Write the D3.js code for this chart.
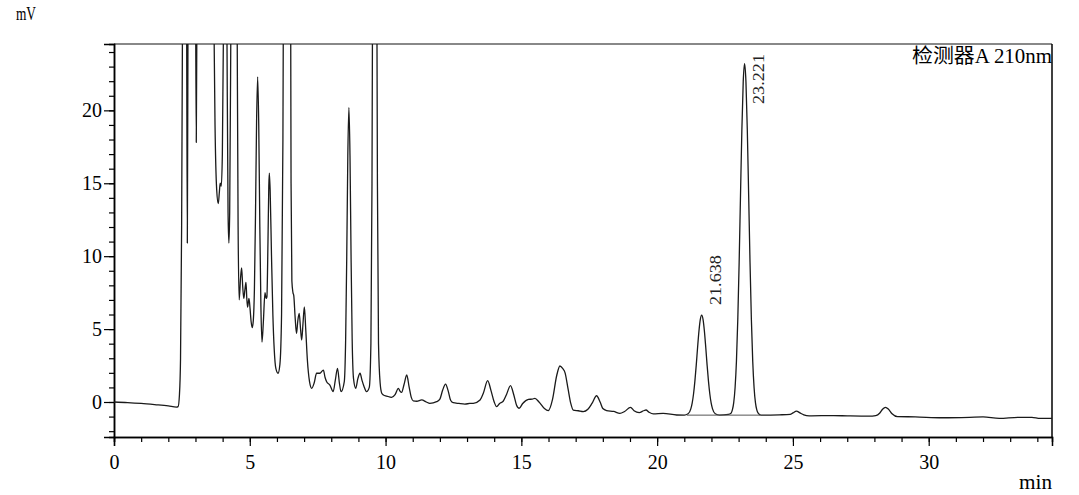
<!DOCTYPE html>
<html><head><meta charset="utf-8">
<script src="https://cdn.jsdelivr.net/npm/d3@7/dist/d3.min.js"></script>
<style>
html,body{margin:0;padding:0;background:#fff;}
svg{display:block;}
</style></head>
<body>
<svg id="chart" width="1079" height="495"></svg>
<script>
// ---- data ----
const timeMin = [0,0.5,1.0,1.5,2.0,2.3,2.36,2.41,2.45,2.49,2.53,2.60,2.67,2.70,2.73,2.85,3.00,3.03,3.06,3.35,3.66,3.72,3.78,3.84,3.88,3.91,3.95,3.99,4.04,4.10,4.16,4.20,4.23,4.26,4.31,4.42,4.53,4.57,4.61,4.66,4.70,4.74,4.78,4.82,4.86,4.89,4.92,4.95,4.97,5.01,5.05,5.09,5.13,5.17,5.21,5.25,5.29,5.33,5.37,5.41,5.45,5.50,5.56,5.60,5.63,5.67,5.70,5.72,5.75,5.80,5.85,5.90,5.96,6.04,6.11,6.17,6.22,6.26,6.38,6.49,6.52,6.55,6.59,6.62,6.67,6.72,6.77,6.82,6.87,6.91,6.96,7.01,7.06,7.12,7.20,7.28,7.37,7.46,7.58,7.71,7.77,7.83,7.95,8.07,8.15,8.23,8.30,8.36,8.48,8.53,8.57,8.61,8.65,8.69,8.73,8.77,8.82,8.90,8.98,9.06,9.13,9.20,9.30,9.40,9.46,9.50,9.54,9.60,9.66,9.70,9.74,9.80,9.86,9.92,10.04,10.22,10.35,10.47,10.53,10.59,10.68,10.78,10.87,10.95,11.02,11.15,11.33,11.5,11.63,11.88,12.0,12.1,12.21,12.3,12.4,12.49,12.7,12.92,13.1,13.23,13.48,13.6,13.76,13.88,14.0,14.09,14.2,14.33,14.45,14.60,14.72,14.82,14.92,15.05,15.26,15.40,15.50,15.65,15.85,15.99,16.15,16.3,16.42,16.52,16.61,16.72,16.82,16.91,17.1,17.28,17.45,17.6,17.77,17.9,18.0,18.14,18.4,18.63,18.8,19.02,19.15,19.34,19.5,19.59,19.7,19.86,20.22,20.72,21.0,21.14,21.24,21.29,21.34,21.39,21.44,21.49,21.54,21.59,21.64,21.69,21.74,21.79,21.84,21.89,21.94,21.99,22.04,22.14,22.3,22.62,22.72,22.77,22.82,22.87,22.92,22.97,23.02,23.07,23.12,23.17,23.22,23.27,23.32,23.37,23.42,23.47,23.52,23.57,23.62,23.67,23.72,23.82,24.5,24.9,25.0,25.13,25.26,25.4,25.6,26.5,27.0,27.8,28.05,28.2,28.3,28.41,28.52,28.65,28.85,29.5,30.5,31.5,32.0,32.6,33.3,33.8,34.1,34.54];
const signalMV = [0,-0.04,-0.1,-0.18,-0.27,-0.35,-0.32,0.5,3,12,30,60,30,10.9,30,60,30,17.8,30,70,30,19,14.6,13.6,14.4,15.0,14.8,17,28,45,25,13,10.9,13,28,60,28,12,7.0,8.5,9.2,7.9,7.1,7.7,8.2,7.1,6.5,6.9,7.1,6.4,5.5,5.1,5.6,7.7,12.8,19.2,22.3,19.0,12.0,6.5,4.1,5.5,7.5,7.1,7.2,11,14.8,15.7,14.5,10,6,3.6,2.3,1.97,2.6,6,18,40,80,40,15,8.3,7.5,7.3,5.8,4.7,5.6,6.07,5.0,4.25,5.4,6.53,5.0,2.9,1.4,0.94,1.3,1.97,1.97,2.19,1.7,1.39,1.16,0.71,1.5,2.31,1.3,0.71,1.4,4.3,9.9,16.9,20.2,16.9,9.9,4.3,1.6,0.94,1.6,1.97,1.5,1.1,0.71,1.0,4,15,40,80,40,15,4,1.3,0.6,0.48,0.41,0.32,0.5,0.94,0.75,0.66,1.2,1.85,1.0,0.3,0.07,0.05,0.14,0.0,-0.09,0.02,0.2,0.8,1.23,0.8,0.1,-0.05,-0.1,-0.14,-0.1,-0.09,0.14,0.6,1.46,0.8,0.0,-0.32,-0.1,0.05,0.5,1.12,0.5,-0.2,-0.43,-0.1,0.18,0.2,0.25,0.0,-0.45,-0.59,0.2,1.8,2.47,2.3,2.0,0.9,-0.1,-0.55,-0.6,-0.66,-0.5,-0.1,0.43,0.0,-0.45,-0.59,-0.65,-0.78,-0.65,-0.37,-0.6,-0.73,-0.6,-0.55,-0.7,-0.82,-0.78,-0.89,-0.9,-0.81,-0.47,-0.08,0.55,1.43,2.53,3.75,4.87,5.67,5.96,5.67,4.87,3.75,2.53,1.43,0.55,-0.08,-0.47,-0.81,-0.9,-0.85,-0.77,-0.54,-0.04,0.98,2.80,5.67,9.59,14.19,18.67,21.97,23.2,21.97,18.67,14.19,9.59,5.67,2.80,0.98,-0.04,-0.54,-0.77,-0.9,-0.88,-0.85,-0.75,-0.62,-0.75,-0.88,-0.95,-0.93,-0.95,-0.97,-0.93,-0.75,-0.5,-0.37,-0.5,-0.8,-1.0,-1.02,-1.08,-1.05,-1.02,-1.12,-1.05,-1.05,-1.12,-1.12];

const peakTimes = [21.638, 23.221];
const peakLabels = ["21.638", "23.221"];
const integrationBaseline = [21.1, 23.8, -0.9]; // start time, end time, level (mV)

const xMajorTicks = [0,5,10,15,20,25,30];
const yMajorTicks = [0,5,10,15,20];
const xMinorTicks = d3.range(0, 35, 1);
const yMinorTicks = d3.range(-2, 25, 1);
const xDomain = [0, 34.54];
const yDomain = [-2.4, 24.55];
const detectorLabel = "检测器A 210nm";
const xUnit = "min";
const yUnit = "mV";

// ---- layout ----
const SERIF = "'Liberation Serif','Noto Sans CJK SC',serif";
const W = 1079, H = 495;
const m = {left:114, right:27, top:44, bottom:58};
const svg = d3.select("#chart");
const x = d3.scaleLinear().domain(xDomain).range([m.left, W - m.right]);
const y = d3.scaleLinear().domain(yDomain).range([H - m.bottom, m.top]);

svg.append("defs").append("clipPath").attr("id","plotclip")
  .append("rect").attr("x", m.left).attr("y", m.top)
  .attr("width", W - m.left - m.right).attr("height", H - m.top - m.bottom);

// frame: top grey, right black
svg.append("line").attr("x1", m.left).attr("x2", W - m.right).attr("y1", m.top).attr("y2", m.top)
  .attr("stroke", "#888").attr("stroke-width", 2);
svg.append("line").attr("x1", W - m.right).attr("x2", W - m.right).attr("y1", m.top).attr("y2", H - m.bottom)
  .attr("stroke", "#000").attr("stroke-width", 1.5);

// axes
function styleAxis(g){
  g.selectAll(".domain").attr("stroke","#000").attr("stroke-width",1.5);
  g.selectAll(".tick line").attr("stroke","#000").attr("stroke-width",1.2);
  g.selectAll("text").attr("fill","#000").style("font-family",SERIF).style("font-size","20px");
}
const xMinor = svg.append("g").attr("transform",`translate(0,${H - m.bottom})`)
  .call(d3.axisBottom(x).tickValues(xMinorTicks).tickSize(5).tickFormat(""));
styleAxis(xMinor);
const xMajor = svg.append("g").attr("transform",`translate(0,${H - m.bottom})`)
  .call(d3.axisBottom(x).tickValues(xMajorTicks).tickSize(9).tickPadding(6).tickFormat(d3.format("d")));
styleAxis(xMajor);
xMajor.selectAll("text").attr("dy","0.85em");

const yMinor = svg.append("g").attr("transform",`translate(${m.left},0)`)
  .call(d3.axisLeft(y).tickValues(yMinorTicks).tickSize(5).tickFormat(""));
styleAxis(yMinor);
const yMajor = svg.append("g").attr("transform",`translate(${m.left},0)`)
  .call(d3.axisLeft(y).tickValues(yMajorTicks).tickSize(10).tickPadding(2).tickFormat(d3.format("d")));
styleAxis(yMajor);

// trace
const pts = timeMin.map((t,i)=>[t, signalMV[i]]);
const line = d3.line().x(d=>x(d[0])).y(d=>y(d[1])).curve(d3.curveMonotoneX);
svg.append("g").attr("clip-path","url(#plotclip)")
  .append("path").attr("d", line(pts)).attr("fill","none")
  .attr("stroke","#1a1a1a").attr("stroke-width",1.3).attr("stroke-linejoin","round");

// integration baseline
svg.append("line")
  .attr("x1", x(integrationBaseline[0])).attr("x2", x(integrationBaseline[1]))
  .attr("y1", y(integrationBaseline[2])).attr("y2", y(integrationBaseline[2]))
  .attr("stroke","#555").attr("stroke-width",1);

// peak labels
const labelLen = 50;
peakTimes.forEach((t,i)=>{
  let best = -Infinity;
  pts.forEach(p=>{ if (Math.abs(p[0]-t) < 0.1 && p[1] > best) best = p[1]; });
  const ax = x(t), ay = y(best);
  const startY = Math.max(ay - 10, m.top + 10 + labelLen);
  svg.append("text")
    .attr("transform", `translate(${ax + 19},${startY}) rotate(-90)`)
    .attr("text-anchor","start")
    .attr("textLength", labelLen).attr("lengthAdjust","spacingAndGlyphs")
    .style("font-family", SERIF).style("font-size","17px").attr("fill","#222")
    .text(peakLabels[i]);
});

// texts
svg.append("text").attr("x", 16).attr("y", 20)
  .attr("textLength", 20).attr("lengthAdjust","spacingAndGlyphs")
  .style("font-family", SERIF).style("font-size","18px").attr("fill","#000").text(yUnit);
svg.append("text").attr("x", 1019).attr("y", 489)
  .attr("textLength", 33).attr("lengthAdjust","spacingAndGlyphs")
  .style("font-family", SERIF).style("font-size","20px").attr("fill","#000").text(xUnit);
svg.append("text").attr("x", 912).attr("y", 63)
  .attr("textLength", 140).attr("lengthAdjust","spacingAndGlyphs")
  .style("font-family", SERIF).style("font-size","20px")
  .attr("fill","#000").text(detectorLabel);
</script>
</body></html>
